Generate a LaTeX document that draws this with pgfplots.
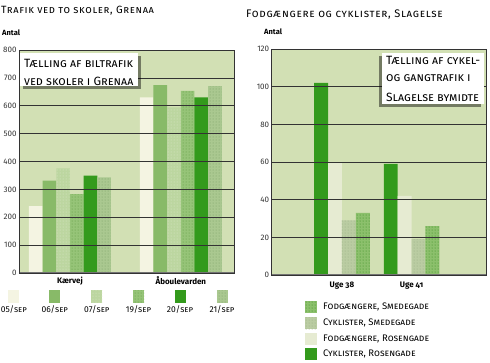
\documentclass[border=0pt]{standalone}
\usepackage{fontspec}
\setmainfont{Fira Sans}
\usepackage{pgfplots}
\pgfplotsset{compat=1.18}
\usetikzlibrary{patterns,shadows}
\definecolor{bg}{RGB}{210,224,180}
\definecolor{cA}{RGB}{244,244,226}
\definecolor{cB}{RGB}{136,186,104}
\definecolor{cC}{RGB}{188,214,160}
\definecolor{cCd}{RGB}{222,234,204}
\definecolor{cD}{RGB}{150,196,120}
\definecolor{cDd}{RGB}{90,150,60}
\definecolor{cE}{RGB}{51,154,28}
\definecolor{cF}{RGB}{170,200,144}
\definecolor{cFd}{RGB}{120,160,100}
\definecolor{rB}{RGB}{230,235,210}
\definecolor{rC}{RGB}{186,204,162}
\definecolor{rCd}{RGB}{150,170,130}
\definecolor{rD}{RGB}{140,192,108}
\definecolor{rDd}{RGB}{50,140,30}
\tikzset{
  s05/.style={fill=cA, draw=none},
  s06/.style={fill=cB, draw=none},
  s07/.style={fill=cC, draw=none, postaction={pattern=dots, pattern color=cCd}},
  s19/.style={fill=cD, draw=none, postaction={pattern=dots, pattern color=cDd}},
  s20/.style={fill=cE, draw=none},
  s21/.style={fill=cF, draw=none, postaction={pattern=dots, pattern color=cFd}},
  rCR/.style={fill=cE, draw=none},
  rFR/.style={fill=rB, draw=none},
  rCS/.style={fill=rC, draw=none, postaction={pattern=dots, pattern color=rCd}},
  rFS/.style={fill=rD, draw=none, postaction={pattern=dots, pattern color=rDd}},
}
\pgfplotsset{
  common/.style={
    scale only axis,
    axis background/.style={fill=bg},
    ymajorgrids, grid style={black!80, line width=0.7pt},
    axis on top,
    axis line style={black!80, line width=0.7pt},
    major tick length=0pt,
    ymin=0,
    /pgf/number format/assume math mode=true,
    yticklabel style={font=\fontsize{8}{9}\selectfont, text=black!80, xshift=1pt},
    xticklabel style={font=\bfseries\fontsize{8}{9}\selectfont\addfontfeatures{Numbers=OldStyle}},
  }
}
\newcommand\ttl[2]{\fontsize{#1}{12}\selectfont\addfontfeatures{LetterSpace=6}\textsc{#2}}
\begin{document}
\begin{tikzpicture}
\useasboundingbox (0,0) rectangle (490pt,362pt);
% ---------------- left chart
\begin{axis}[common,
  at={(19pt,89pt)}, anchor=south west, width=215pt, height=223pt,
  xmin=-0.46, xmax=1.48, ymax=800,
  ytick={0,100,...,800},
  xtick={0,1}, xticklabels={Kærvej,Åboulevarden},
  ybar=0pt, bar width=13.67pt]
\addplot[s05] coordinates {(0,240) (1,630)};
\addplot[s06] coordinates {(0,331) (1,674)};
\addplot[s07] coordinates {(0,375) (1,594)};
\addplot[s19] coordinates {(0,283) (1,653)};
\addplot[s20] coordinates {(0,349) (1,630)};
\addplot[s21] coordinates {(0,343) (1,670)};
\draw[black!55, line width=1.6pt] (rel axis cs:0,0) -- (rel axis cs:1,0);
\end{axis}
% ---------------- right chart
\begin{axis}[common,
  at={(271.7pt,87pt)}, anchor=south west, width=215pt, height=226pt,
  xmin=-1.01, xmax=2.08, ymax=120,
  ytick={0,20,...,120},
  xtick={0,1}, xticklabels={Uge 38,Uge 41},
  xticklabel style={yshift=-3pt},
  ybar=0pt, bar width=13.9pt]
\addplot[rCR] coordinates {(0,102) (1,59)};
\addplot[rFR] coordinates {(0,60) (1,42)};
\addplot[rCS] coordinates {(0,29) (1,19)};
\addplot[rFS] coordinates {(0,33) (1,26)};
\draw[black!55, line width=1.6pt] (rel axis cs:0,0) -- (rel axis cs:1,0);
\end{axis}
% ---------------- titles
\node[anchor=west, inner sep=0pt] at (1pt,351pt) {\ttl{10.5}{Trafik ved to skoler, Grenaa}};
\node[anchor=west, inner sep=0pt] at (2pt,329pt) {\bfseries\fontsize{7.5}{9}\selectfont Antal};
\node[anchor=west, inner sep=0pt] at (246pt,347pt) {\ttl{11}{Fodgængere og cyklister, Slagelse}};
\node[anchor=west, inner sep=0pt] at (264pt,330pt) {\bfseries\fontsize{7.5}{9}\selectfont Antal};
% ---------------- inset boxes
\path[fill=white, drop shadow={shadow xshift=3pt, shadow yshift=-3pt, fill=black, opacity=0.45}] (20pt,276pt) rectangle (138pt,309pt);
\node[anchor=west, inner sep=0pt] at (24pt,299pt) {\fontsize{12}{13}\selectfont\textsc{Tælling af biltrafik}};
\node[anchor=west, inner sep=0pt] at (24pt,281pt) {\fontsize{12}{13}\selectfont\textsc{ved skoler i Grenaa}};
\path[fill=white, drop shadow={shadow xshift=-3pt, shadow yshift=-3pt, fill=black, opacity=0.45}] (382pt,258pt) rectangle (484pt,309pt);
\node[anchor=west, inner sep=0pt] at (386pt,302pt) {\fontsize{12}{13}\selectfont\textsc{Tælling af cykel-}};
\node[anchor=west, inner sep=0pt] at (386pt,284pt) {\fontsize{12}{13}\selectfont\textsc{og gangtrafik i}};
\node[anchor=west, inner sep=0pt] at (386pt,265pt) {\fontsize{12}{13}\selectfont\textsc{Slagelse bymidte}};
% ---------------- left legend
\foreach \st/\xx/\lab in {s05/13.8/05, s06/54.8/06, s07/96.8/07, s19/138.5/19, s20/180/20, s21/222/21}{
  \path[\st] (\xx pt-5.5pt,59pt) rectangle (\xx pt+5.5pt,72pt);
  \node[inner sep=0pt] at (\xx pt,52pt) {\fontsize{8.5}{10}\selectfont\lab/\textsc{sep}};
}
% ---------------- right legend
\foreach \st/\yy/\lab in {rFS/55.3/{Fodgængere, Smedegade}, rCS/38.7/{Cyklister, Smedegade}, rFR/23/{Fodgængere, Rosengade}, rCR/7.7/{Cyklister, Rosengade}}{
  \path[\st] (305pt,\yy pt-6pt) rectangle (316.7pt,\yy pt+6pt);
  \node[anchor=west, inner sep=0pt] at (323pt,\yy pt) {\fontsize{9.5}{10}\selectfont\textsc{\lab}};
}
\end{tikzpicture}
\end{document}
